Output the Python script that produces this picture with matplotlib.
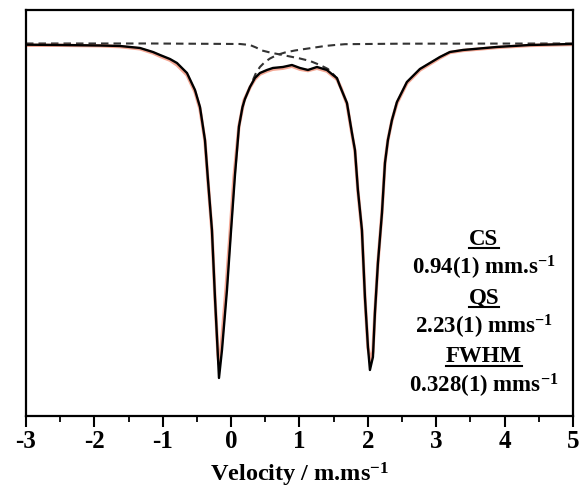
import matplotlib

matplotlib.use("Agg")

import matplotlib.pyplot as plt
from matplotlib.lines import Line2D
from matplotlib.ticker import FuncFormatter, MultipleLocator


# Values (velocity in mm/s, relative transmission in %)
fit_velocity = [
    -2.985, -2.503, -1.918, -1.625, -1.333, -1.143, -1.040, -0.894, -0.792, -0.645,
    -0.528, -0.455, -0.382, -0.338, -0.280, -0.236, -0.192, -0.177, -0.133, -0.060,
    -0.002, 0.057, 0.115, 0.166, 0.203, 0.276, 0.349, 0.422, 0.525, 0.612, 0.759,
    0.890, 1.007, 1.124, 1.256, 1.402, 1.490, 1.548, 1.592, 1.695, 1.768,
    1.812, 1.855, 1.914, 1.958, 2.002, 2.031, 2.075, 2.104, 2.148, 2.207,
    2.251, 2.294, 2.353, 2.426, 2.572, 2.762, 3.055, 3.201, 3.391, 3.888,
    4.371, 5.000,
]
fit_transmission = [
    99.949, 99.940, 99.925, 99.910, 99.851, 99.731, 99.642, 99.522, 99.403, 99.104,
    98.597, 98.090, 97.104, 95.910, 94.418, 92.418, 90.627, 90.000, 90.836, 92.627,
    94.358, 96.060, 97.500, 98.080, 98.330, 98.687, 98.955, 99.104, 99.194, 99.254, 99.284,
    99.343, 99.254, 99.194, 99.284, 99.194, 99.045, 98.955, 98.716, 98.209, 97.313,
    96.806, 95.612, 94.418, 92.418, 90.925, 90.239, 90.627, 91.940, 93.433, 94.925,
    96.418, 97.104, 97.701, 98.239, 98.836, 99.224, 99.582, 99.731, 99.791, 99.881,
    99.940, 99.970,
]

data_velocity = [
    -2.985, -2.503, -1.918, -1.625, -1.333, -1.143, -1.040, -0.894, -0.792, -0.645,
    -0.528, -0.455, -0.382, -0.338, -0.280, -0.236, -0.192, -0.177, -0.148, -0.075,
    -0.016, 0.042, 0.115, 0.188, 0.276, 0.349, 0.422, 0.525, 0.612, 0.759,
    0.890, 1.007, 1.124, 1.256, 1.402, 1.490, 1.548, 1.607, 1.695, 1.768,
    1.812, 1.855, 1.914, 1.958, 2.002, 2.046, 2.075, 2.104, 2.148, 2.207,
    2.251, 2.294, 2.353, 2.426, 2.572, 2.762, 3.055, 3.201, 3.391, 3.888,
    4.371, 4.985,
]
data_transmission = [
    99.930, 99.930, 99.915, 99.890, 99.825, 99.700, 99.605, 99.485, 99.345, 99.045,
    98.540, 98.030, 97.070, 95.870, 94.380, 92.400, 90.700, 90.420, 90.836, 92.627,
    94.290, 95.990, 97.520, 98.280, 98.670, 98.920, 99.070, 99.160, 99.215, 99.245,
    99.305, 99.215, 99.175, 99.245, 99.160, 99.010, 98.920, 98.660, 98.175, 97.280,
    96.770, 95.580, 94.380, 92.400, 90.900, 90.500, 90.790, 91.960, 93.450, 94.940,
    96.430, 97.104, 97.690, 98.200, 98.800, 99.190, 99.555, 99.715, 99.775, 99.865,
    99.925, 99.955,
]

comp1_velocity = [-3.000, -1.186, 0.130, 0.276, 0.364, 0.452, 0.569, 0.715, 0.861,
                  1.007, 1.154, 1.300, 1.417, 1.519, 1.578]
comp1_transmission = [99.985, 99.985, 99.970, 99.940, 99.866, 99.776, 99.716, 99.657,
                      99.597, 99.537, 99.463, 99.343, 99.224, 99.015, 98.776]

comp2_velocity = [0.320, 0.364, 0.422, 0.495, 0.569, 0.671, 0.788, 0.934, 1.080,
                  1.227, 1.373, 1.519, 1.665, 2.470, 5.000]
comp2_transmission = [98.896, 99.104, 99.284, 99.433, 99.537, 99.642, 99.716, 99.776,
                      99.821, 99.866, 99.910, 99.940, 99.964, 99.979, 99.985]

param_lines = [
    ("CS", True),
    ("0.94(1) mm.s$^{-1}$", False),
    ("QS", True),
    ("2.23(1) mms$^{-1}$", False),
    ("FWHM", True),
    ("0.328(1) mms$^{-1}$", False),
]

plt.rcParams["font.family"] = ["Liberation Serif", "DejaVu Serif"]
plt.rcParams["font.weight"] = "bold"
plt.rcParams["mathtext.fontset"] = "custom"
plt.rcParams["mathtext.rm"] = "Liberation Serif:bold"
plt.rcParams["mathtext.it"] = "Liberation Serif:bold"
plt.rcParams["mathtext.bf"] = "Liberation Serif:bold"

fig = plt.figure(figsize=(5.84, 4.92), dpi=100)
ax = fig.add_axes([0.0445, 0.1545, 0.9365, 0.8252])

dash = (0, (3.6, 2.4))
ax.plot(comp1_velocity, comp1_transmission, color="#333333", lw=1.5, linestyle=dash)
ax.plot(comp2_velocity, comp2_transmission, color="#333333", lw=1.5, linestyle=dash)
ax.plot(data_velocity, data_transmission, color="#f08a70", lw=2.4, alpha=0.75,
        solid_joinstyle="round")
ax.plot(fit_velocity, fit_transmission, color="black", lw=1.7)

ax.set_xlim(-3, 5)
ax.set_ylim(88.866, 100.985)
ax.xaxis.set_major_locator(MultipleLocator(1))
ax.xaxis.set_minor_locator(MultipleLocator(0.5))
ax.xaxis.set_major_formatter(FuncFormatter(lambda v, pos: f"{v:.0f}".replace("\u2212", "-")))
ax.set_yticks([])
ax.tick_params(axis="x", which="major", direction="out", length=8, width=1.5,
               labelsize=18, pad=2)
ax.tick_params(axis="x", which="minor", direction="out", length=4.5, width=1.3)
for spine in ax.spines.values():
    spine.set_linewidth(1.6)
ax.set_xlabel("Velocity / m.ms$^{-1}$", fontsize=17.5, fontweight="bold", labelpad=6)

# parameter block with underlined headings
y_rows = [239, 268, 298, 327, 357, 386]
texts = []
for (label, underline), ypx in zip(param_lines, y_rows):
    t = fig.text(484 / 584, 1 - ypx / 492, label, ha="center", va="center",
                 fontsize=16.5, fontweight="bold")
    texts.append((t, underline))

fig.canvas.draw()
renderer = fig.canvas.get_renderer()
for t, underline in texts:
    if not underline:
        continue
    bb = t.get_window_extent(renderer)
    x0, x1 = bb.x0 / fig.bbox.width, bb.x1 / fig.bbox.width
    yline = (bb.y0 + 2.0) / fig.bbox.height
    fig.add_artist(Line2D([x0, x1], [yline, yline], color="black", lw=1.5,
                          transform=fig.transFigure))

fig.savefig("out.png", dpi=100)
